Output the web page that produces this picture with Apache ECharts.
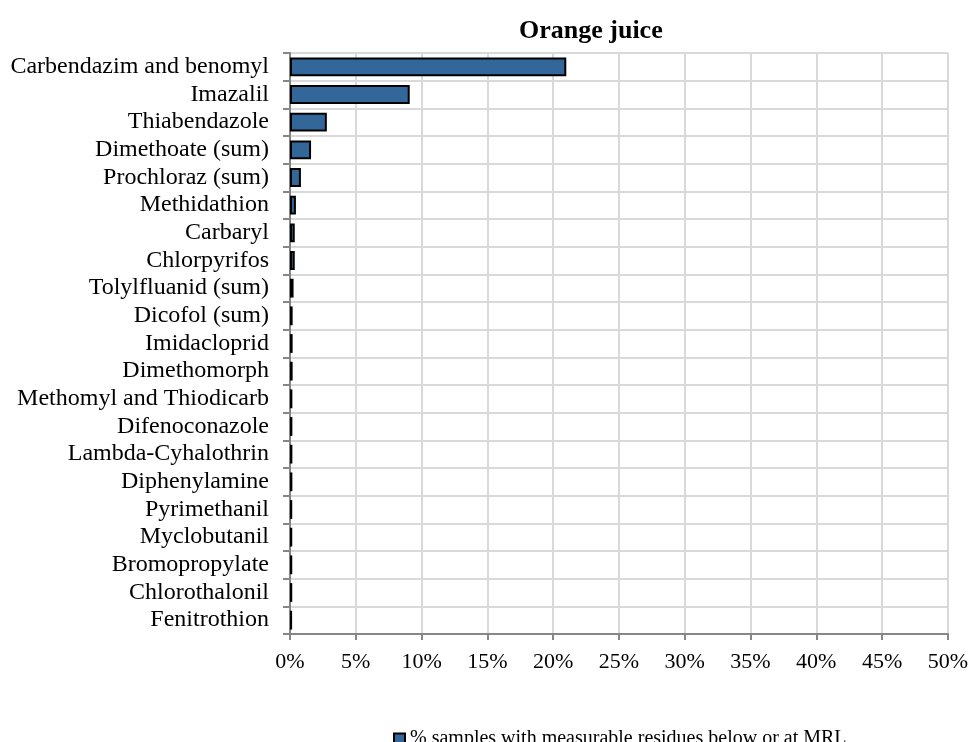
<!DOCTYPE html>
<html><head><meta charset="utf-8">
<script src="https://cdn.jsdelivr.net/npm/echarts@6/dist/echarts.min.js"></script>
<style>html,body{margin:0;padding:0;background:#fff}#c{width:971px;height:742px}</style>
</head><body><div id="c"></div>
<script>
var categories = ["Carbendazim and benomyl","Imazalil","Thiabendazole","Dimethoate (sum)","Prochloraz (sum)","Methidathion","Carbaryl","Chlorpyrifos","Tolylfluanid (sum)","Dicofol (sum)","Imidacloprid","Dimethomorph","Methomyl and Thiodicarb","Difenoconazole","Lambda-Cyhalothrin","Diphenylamine","Pyrimethanil","Myclobutanil","Bromopropylate","Chlorothalonil","Fenitrothion"];
var values = [21.0,9.1,2.8,1.6,0.83,0.45,0.36,0.36,0.27,0.2,0.2,0.2,0.18,0.18,0.18,0.18,0.17,0.17,0.17,0.17,0.16];
var seriesName = "% samples with measurable residues below or at MRL";
var chart = echarts.init(document.getElementById('c'));
var font = "'Liberation Serif','Times New Roman',serif";
chart.setOption({
  animation:false,
  title:{text:"Orange juice",left:514,top:13,textStyle:{fontFamily:font,fontWeight:'bold',fontSize:26,color:'#000'}},
  legend:{data:[seriesName],top:724,left:388,itemWidth:11,itemHeight:11,itemGap:4,textStyle:{fontFamily:font,fontSize:20,color:'#000'},icon:'rect'},
  grid:{left:290,right:22,top:53,bottom:108,containLabel:false},
  xAxis:{type:'value',min:0,max:50,interval:5,
    axisLabel:{formatter:'{value}%',fontFamily:font,fontSize:22,color:'#000',margin:17},
    axisLine:{show:true,lineStyle:{color:'#868686',width:2}},
    axisTick:{show:true,length:6,lineStyle:{color:'#868686',width:2}},
    splitLine:{show:true,lineStyle:{color:'#d9d9d9',width:2}}},
  yAxis:{type:'category',inverse:true,data:categories,
    axisLabel:{interval:0,fontFamily:font,fontSize:24,color:'#000',margin:21},
    axisLine:{show:true,lineStyle:{color:'#868686',width:2}},
    axisTick:{show:true,length:7,lineStyle:{color:'#868686',width:2}},
    splitLine:{show:true,lineStyle:{color:'#d9d9d9',width:2}}},
  series:[{name:seriesName,type:'bar',data:values,barCategoryGap:'32%',
    itemStyle:{color:'#336699',borderColor:'#000',borderWidth:2}}]
});
</script></body></html>
